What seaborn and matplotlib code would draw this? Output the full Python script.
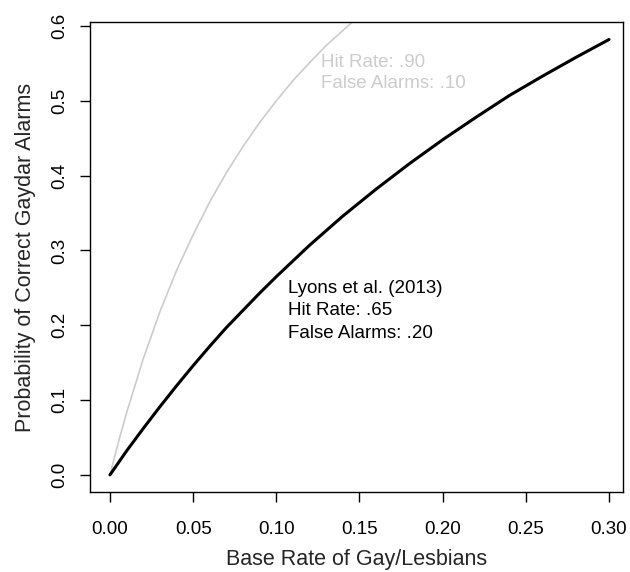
import matplotlib
matplotlib.use("Agg")
import matplotlib.pyplot as plt
import pandas as pd
import seaborn as sns

# Base rates and the values.
base_rate_lyons = [0.00, 0.01, 0.02, 0.03, 0.04, 0.05, 0.06, 0.07, 0.08, 0.09,
                   0.10, 0.12, 0.14, 0.16, 0.18, 0.20, 0.22, 0.24, 0.26, 0.28, 0.30]
prob_lyons = [0.000, 0.032, 0.062, 0.091, 0.119, 0.146, 0.172, 0.197, 0.220, 0.243,
              0.265, 0.307, 0.346, 0.382, 0.416, 0.448, 0.478, 0.507, 0.533, 0.558, 0.582]

base_rate_high = [0.000, 0.005, 0.01, 0.02, 0.03, 0.04, 0.05, 0.06, 0.07, 0.08,
                  0.09, 0.10, 0.11, 0.12, 0.13, 0.14, 0.15]
prob_high = [0.000, 0.043, 0.083, 0.155, 0.218, 0.273, 0.321, 0.365, 0.404, 0.439,
             0.471, 0.500, 0.527, 0.551, 0.574, 0.594, 0.614]

x_ticks = [0.00, 0.05, 0.10, 0.15, 0.20, 0.25, 0.30]
y_ticks = [0.0, 0.1, 0.2, 0.3, 0.4, 0.5, 0.6]

LIGHT = "#cccccc"


def main() -> None:
    sns.set_style("white")
    plt.rcParams["font.family"] = ["Liberation Sans", "DejaVu Sans"]

    df_lyons = pd.DataFrame({"base": base_rate_lyons, "prob": prob_lyons})
    df_high = pd.DataFrame({"base": base_rate_high, "prob": prob_high})

    fig = plt.figure(figsize=(6.3, 5.72), dpi=100)
    ax = fig.add_axes([90 / 630, (572 - 492.3) / 572, 533 / 630, 470.3 / 572])

    sns.lineplot(data=df_high, x="base", y="prob", ax=ax, color=LIGHT, linewidth=1.2)
    sns.lineplot(data=df_lyons, x="base", y="prob", ax=ax, color="black", linewidth=2.2)

    ax.set_xlim(-0.012, 0.3084)
    ax.set_ylim(-0.0233, 0.6054)
    ax.set_xticks(x_ticks)
    ax.set_xticklabels([f"{t:.2f}" for t in x_ticks])
    ax.set_yticks(y_ticks)
    ax.set_yticklabels([f"{t:.1f}" for t in y_ticks], rotation=90, va="center")

    for s in ax.spines.values():
        s.set_visible(True)
        s.set_color("black")
        s.set_linewidth(1.0)

    ax.tick_params(axis="both", direction="out", length=7.5, width=1.0,
                   labelsize=13.5, colors="black", bottom=True, left=True)
    ax.tick_params(axis="x", pad=13)
    ax.tick_params(axis="y", pad=8)

    # keep the x label just inside the bottom edge so descenders are not clipped
    ax.set_xlabel("Base Rate of Gay/Lesbians", fontsize=15.5, labelpad=8)
    ax.set_ylabel("Probability of Correct Gaydar Alarms", fontsize=15.5, labelpad=11)

    ax.text(0.127, 0.537, "Hit Rate: .90\nFalse Alarms: .10", color=LIGHT,
            fontsize=13.5, ha="left", va="center", linespacing=1.35)
    ax.text(0.1070, 0.2195, "Lyons et al. (2013)\nHit Rate: .65\nFalse Alarms: .20",
            color="black", fontsize=13.5, ha="left", va="center", linespacing=1.42)

    fig.savefig("out.png", dpi=100)
    plt.close(fig)


if __name__ == "__main__":
    main()
